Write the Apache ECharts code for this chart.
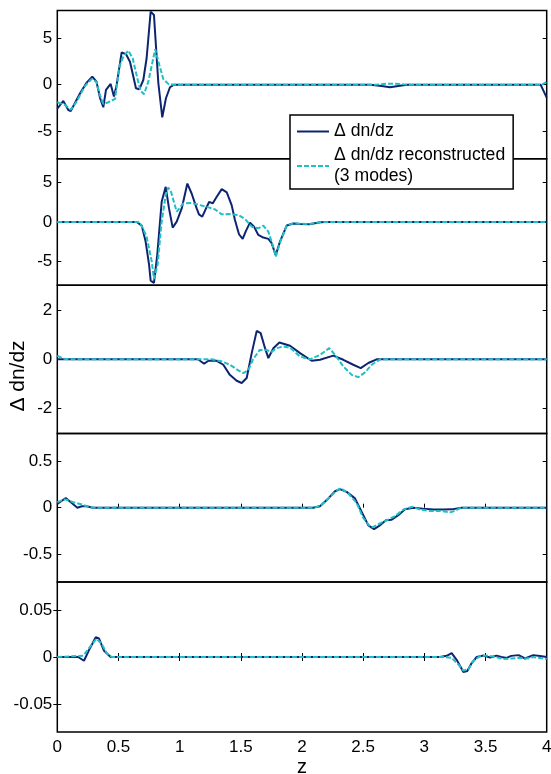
<!DOCTYPE html>
<html>
<head>
<meta charset="utf-8">
<script src="https://cdn.jsdelivr.net/npm/echarts@6/dist/echarts.min.js"></script>
<style>
html,body{margin:0;padding:0;background:#fff;}
#chart{width:551px;height:774px;}
</style>
</head>
<body>
<div id="chart"></div>
<script>
// ---- data: [z, value] pairs ----
const p1Navy = [[0,-2.6],[0.016,-2.55],[0.049,-1.76],[0.09,-2.73],[0.11,-2.84],[0.186,-0.93],[0.24,0.22],[0.286,0.86],[0.32,0.33],[0.35,-1.47],[0.376,-2.44],[0.398,-0.57],[0.436,0.08],[0.463,-1.29],[0.485,-0.03],[0.526,3.49],[0.562,3.28],[0.594,2.48],[0.643,-0.39],[0.67,-0.5],[0.703,0.5],[0.73,2.85],[0.763,7.88],[0.79,7.52],[0.826,0.15],[0.858,-3.52],[0.888,-1.47],[0.921,-0.28],[0.954,0],[2.56,0],[2.65,-0.15],[2.72,-0.28],[2.8,-0.12],[2.86,0],[3.95,0],[4.0,-1.4]];
const p1Cyan = [[0,-1.9],[0.016,-1.94],[0.063,-2.19],[0.11,-2.7],[0.158,-1.83],[0.226,-0.14],[0.281,0.61],[0.32,0.3],[0.343,-0.93],[0.376,-2.08],[0.417,-1.9],[0.472,-1.54],[0.507,1.94],[0.54,3.02],[0.58,3.67],[0.616,2.85],[0.654,0.69],[0.68,-0.65],[0.709,-1.04],[0.744,0.33],[0.8,3.82],[0.834,2.12],[0.866,0.61],[0.907,0.08],[0.95,0],[2.6,0],[2.7,0.1],[2.8,0.08],[2.86,0],[3.96,0],[4.0,0.3]];
const p2Navy = [[0,0],[0.649,0],[0.69,-0.46],[0.722,-2.48],[0.75,-5.4],[0.763,-7.43],[0.79,-7.7],[0.817,-4.16],[0.853,2.56],[0.886,4.45],[0.913,1.72],[0.943,-0.71],[0.976,0.04],[1.017,1.72],[1.063,4.87],[1.098,3.61],[1.139,1.72],[1.158,0.97],[1.185,0.67],[1.213,1.64],[1.242,2.56],[1.27,2.35],[1.303,3.19],[1.344,4.16],[1.385,3.74],[1.425,2.14],[1.452,0.25],[1.485,-1.55],[1.515,-2.14],[1.542,-1.13],[1.575,-0.08],[1.608,-0.59],[1.643,-1.64],[1.684,-1.97],[1.725,-2.14],[1.752,-2.68],[1.785,-4.2],[1.82,-2.48],[1.875,-0.45],[1.93,-0.2],[1.98,-0.25],[2.06,-0.28],[2.15,-0.03],[2.2,0],[4,0]];
const p2Cyan = [[0,0],[0.66,0],[0.68,-0.2],[0.73,-1.85],[0.772,-5.0],[0.79,-7.2],[0.82,-5.4],[0.853,0.04],[0.886,3.4],[0.907,4.37],[0.93,3.8],[0.976,1.3],[1.03,2.35],[1.098,2.4],[1.166,2.14],[1.235,1.85],[1.289,1.6],[1.344,0.97],[1.41,1.0],[1.48,0.88],[1.534,0.38],[1.589,-0.59],[1.643,-0.8],[1.684,-0.46],[1.725,-1.22],[1.76,-2.9],[1.787,-4.37],[1.82,-2.6],[1.875,-0.45],[1.93,-0.15],[1.98,-0.22],[2.06,-0.25],[2.15,-0.03],[2.2,0],[4,0]];
const p3Navy = [[0,0],[1.15,0],[1.2,-0.18],[1.235,-0.06],[1.303,-0.06],[1.357,-0.22],[1.41,-0.63],[1.466,-0.87],[1.507,-0.96],[1.548,-0.76],[1.589,0.25],[1.63,1.15],[1.662,1.06],[1.698,0.45],[1.725,0.05],[1.766,0.45],[1.815,0.68],[1.902,0.55],[1.984,0.25],[2.079,-0.06],[2.147,-0.02],[2.256,0.15],[2.338,-0.02],[2.419,-0.22],[2.48,-0.36],[2.542,-0.15],[2.61,0],[4,0]];
const p3Cyan = [[0,0.15],[0.05,0.02],[0.1,0],[1.26,0],[1.34,-0.08],[1.41,-0.22],[1.48,-0.45],[1.52,-0.56],[1.56,-0.45],[1.6,0],[1.655,0.38],[1.711,0.38],[1.75,0.3],[1.793,0.45],[1.847,0.52],[1.902,0.47],[1.984,0.11],[2.065,0],[2.147,0.18],[2.223,0.45],[2.27,0.18],[2.338,-0.29],[2.406,-0.63],[2.46,-0.72],[2.515,-0.53],[2.57,-0.22],[2.638,0],[4,0]];
const p4Navy = [[0,0.04],[0.016,0.05],[0.069,0.105],[0.118,0.05],[0.164,0],[0.2,0.016],[0.24,0.015],[0.29,0],[2.09,0],[2.147,0.016],[2.215,0.1],[2.27,0.177],[2.31,0.2],[2.365,0.17],[2.433,0.1],[2.488,-0.045],[2.542,-0.19],[2.589,-0.23],[2.637,-0.19],[2.686,-0.134],[2.733,-0.13],[2.787,-0.08],[2.842,-0.016],[2.91,0],[2.99,-0.01],[3.073,-0.02],[3.155,-0.02],[3.223,-0.018],[3.305,0],[4,0]];
const p4Cyan = [[0,0.06],[0.016,0.07],[0.063,0.09],[0.13,0.06],[0.2,0.035],[0.25,0.01],[0.3,0],[2.09,0],[2.147,0.016],[2.215,0.1],[2.286,0.19],[2.318,0.21],[2.38,0.15],[2.447,0.05],[2.5,-0.11],[2.555,-0.2],[2.58,-0.21],[2.65,-0.16],[2.7,-0.13],[2.76,-0.09],[2.83,-0.02],[2.9,0.01],[2.965,-0.02],[3.046,-0.035],[3.128,-0.035],[3.21,-0.05],[3.25,-0.035],[3.3,0],[4,0]];
const p5Navy = [[0,0],[0.17,0],[0.218,-0.004],[0.267,0.0094],[0.314,0.021],[0.341,0.0197],[0.382,0.0066],[0.436,0],[3.128,0],[3.183,0.0013],[3.223,0.0041],[3.264,-0.003],[3.319,-0.016],[3.351,-0.015],[3.387,-0.0065],[3.428,0],[3.483,0.0015],[3.537,-0.0005],[3.59,0.0015],[3.63,0],[3.673,-0.001],[3.71,0.0012],[3.77,0.002],[3.823,-0.0016],[3.89,0.002],[3.946,0.001],[4,0]];
const p5Cyan = [[0,0],[0.16,0.001],[0.213,0.0014],[0.262,0.0099],[0.32,0.0195],[0.363,0.014],[0.404,0.004],[0.445,0],[3.16,0],[3.223,-0.001],[3.278,-0.008],[3.319,-0.0145],[3.36,-0.013],[3.4,-0.004],[3.455,0.001],[3.51,0.0015],[3.578,0],[3.646,-0.0022],[3.71,-0.0017],[3.78,-0.0008],[3.837,-0.0017],[3.89,0],[3.946,-0.001],[4,-0.0022]];

const navySeries = [p1Navy, p2Navy, p3Navy, p4Navy, p5Navy];
const cyanSeries = [p1Cyan, p2Cyan, p3Cyan, p4Cyan, p5Cyan];
const yRanges = [[-8, 8], [-8, 8], [-3, 3], [-0.8, 0.8], [-0.08, 0.08]];
const yTicks = [[-5, 0, 5], [-5, 0, 5], [-2, 0, 2], [-0.5, 0, 0.5], [-0.05, 0, 0.05]];
const xRange = [0, 4];
const xStep = 0.5;
const nameNavy = 'Δ dn/dz';
const nameCyan = 'Δ dn/dz reconstructed (3 modes)';
const yLabel = 'Δ dn/dz';
const xLabel = 'z';

// ---- layout / style ----
const FONT = "'Liberation Sans', Arial, Helvetica, sans-serif";
const NAVY = '#0e2470';
const CYAN = '#1fbfc6';
const panels = [
  {top: 10.5, bottom: 158.8},
  {top: 158.8, bottom: 285.2},
  {top: 285.2, bottom: 433.4},
  {top: 433.4, bottom: 582},
  {top: 582, bottom: 732}
];
const left = 57.3, right = 4.3;

const grids = [], xAxes = [], yAxes = [], series = [];
panels.forEach((p, i) => {
  grids.push({left: left, right: right, top: p.top, height: p.bottom - p.top,
    containLabel: false, outerBoundsMode: 'none',
    show: true, borderColor: '#000', borderWidth: 1.5, backgroundColor: 'transparent'});
  const hasTicks = i >= 3;
  const isLast = i === 4;
  xAxes.push({
    type: 'value', gridIndex: i, min: xRange[0], max: xRange[1], interval: xStep,
    position: 'bottom',
    axisLine: {show: false},
    splitLine: {show: false},
    axisTick: {show: hasTicks, inside: true, length: 4, lineStyle: {color: '#000', width: 1}},
    axisLabel: {show: isLast, margin: 7, color: '#000', fontSize: 17, fontFamily: FONT, hideOverlap: false},
    name: isLast ? xLabel : '', nameLocation: 'middle', nameGap: 25,
    nameTextStyle: {color: '#000', fontSize: 20, fontFamily: FONT}
  });
  if (isLast) {
    xAxes.push({
      type: 'value', gridIndex: i, min: xRange[0], max: xRange[1], interval: xStep,
      position: 'top',
      axisLine: {show: false}, splitLine: {show: false},
      axisTick: {show: true, inside: true, length: 4, lineStyle: {color: '#000', width: 1}},
      axisLabel: {show: false}
    });
  }
  const [ymin, ymax] = yRanges[i];
  yAxes.push({
    type: 'value', gridIndex: i, min: ymin, max: ymax, position: 'left',
    axisLine: {show: false}, splitLine: {show: false},
    axisTick: {show: true, inside: true, length: 4, customValues: yTicks[i], lineStyle: {color: '#000', width: 1}},
    axisLabel: {show: true, margin: 5, customValues: yTicks[i], color: '#000', fontSize: 17, fontFamily: FONT}
  });
  yAxes.push({
    type: 'value', gridIndex: i, min: ymin, max: ymax, position: 'right',
    axisLine: {show: false}, splitLine: {show: false},
    axisTick: {show: true, inside: true, length: 4, customValues: yTicks[i], lineStyle: {color: '#000', width: 1}},
    axisLabel: {show: false}
  });
});

panels.forEach((p, i) => {
  series.push({
    name: nameNavy, type: 'line', xAxisIndex: i, yAxisIndex: 2 * i,
    data: navySeries[i], symbol: 'none', silent: true, animation: false,
    lineStyle: {color: NAVY, width: 2}, itemStyle: {color: NAVY}, z: 2
  });
  series.push({
    name: nameCyan, type: 'line', xAxisIndex: i, yAxisIndex: 2 * i,
    data: cyanSeries[i], symbol: 'none', silent: true, animation: false,
    lineStyle: {color: CYAN, width: 2, type: [5, 2]}, itemStyle: {color: CYAN}, z: 3
  });
});

const chart = echarts.init(document.getElementById('chart'), null, {renderer: 'canvas'});
chart.setOption({
  animation: false,
  backgroundColor: '#fff',
  grid: grids,
  xAxis: xAxes,
  yAxis: yAxes,
  series: series,
  legend: {
    data: [nameNavy, nameCyan],
    orient: 'vertical',
    left: 290, top: 115,
    itemWidth: 32, itemHeight: 14, itemGap: 3,
    padding: [6, 8, 2, 6],
    backgroundColor: '#fff', borderColor: '#000', borderWidth: 1.5,
    selectedMode: false,
    itemStyle: {opacity: 0},
    formatter: (n) => n === nameCyan ? 'Δ dn/dz reconstructed\n(3 modes)' : n,
    textStyle: {color: '#000', fontSize: 17.6, lineHeight: 21, fontFamily: FONT}
  },
  graphic: [{
    type: 'text', x: 18, y: 376, rotation: Math.PI / 2,
    style: {text: yLabel, fill: '#000', font: '21px ' + FONT, align: 'center', verticalAlign: 'middle'}
  }]
});
</script>
</body>
</html>
